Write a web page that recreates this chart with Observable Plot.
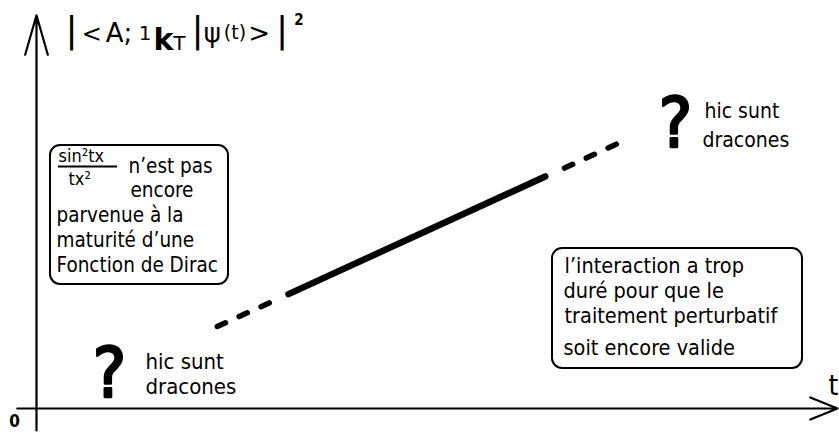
<!DOCTYPE html>
<html><head><meta charset="utf-8">
<script src="https://cdn.jsdelivr.net/npm/d3@7"></script>
<script src="https://cdn.jsdelivr.net/npm/@observablehq/plot@0.6"></script>
<style>html,body{margin:0;padding:0;background:#fff;overflow:hidden}</style>
</head><body><div id="chart"></div>
<script>
// ---- data (t = time, horizontal; P = probability, vertical; arbitrary units) ----
const tDomain = [0, 10];
const pDomain = [0, 10];
const xAxisExtent = [-0.24, 10.0125];
const yAxisExtent = [-0.55, 9.83];

// the straight growth of |<A;1kT|psi(t)>|^2, split in three stretches
const lineSegments = ["trop tôt", "valide", "trop tard"];
const lineT = [[2.26, 2.91], [3.15, 6.36], [6.60, 7.26]];
const lineP = [[2.05, 2.64], [2.86, 5.80], [6.01, 6.62]];

// annotation boxes
const boxNames = ["sinc", "perturbatif"];
const boxT1 = [0.175, 6.45];
const boxT2 = [2.40, 9.575];
const boxP1 = [3.10, 1.00];
const boxP2 = [6.575, 4.00];

const leftBoxLines = ["n’est pas", "encore", "parvenue à la", "maturité d’une", "Fonction de Dirac"];
const leftBoxT = [1.15, 1.175, 0.25, 0.25, 0.25];
const leftBoxP = [6.05, 5.45, 4.825, 4.20, 3.575];

const fractionText = ["sin²tx", "tx²"];
const fractionT = [0.275, 0.40];
const fractionP = [6.30, 5.725];
const fractionBar = {P: 6.05, t1: 0.275, t2: 1.0125};

const rightBoxLines = ["l’interaction a trop", "duré pour que le", "traitement perturbatif", "soit encore valide"];
const rightBoxT = [6.60, 6.5875, 6.60, 6.5875];
const rightBoxP = [3.55, 2.925, 2.30, 1.50];

const dragonLines = ["hic sunt", "dracones", "hic sunt", "dracones"];
const dragonT = [1.3625, 1.3625, 8.35, 8.325];
const dragonP = [1.175, 0.55, 7.425, 6.70];

const questionT = [0.9125, 7.9875];
const questionP = [0.85, 7.10];

const axisLabels = ["0", "t"];
const axisLabelT = [-0.275, 9.9625];
const axisLabelP = [-0.325, 0.55];

const titleText = "|<A; 1kT|ψ(t)>|";
const titleT = 0.3625, titleP = 9.375;
const titleSupT = 3.28, titleSupP = 9.70;
const titlePieces = [
  {s: "|", size: 36},
  {s: "<", size: 24, dx: 4},
  {s: "A;", size: 26, dx: 4},
  {s: " 1", size: 20, dy: -2},
  {s: "k", size: 30, weight: "bold", dy: 10, dx: 2},
  {s: "T", size: 20},
  {s: "|", size: 36, dy: -8, dx: 6},
  {s: "ψ", size: 26},
  {s: "(t)", size: 19, dy: -3, dx: 3},
  {s: ">", size: 26, dy: 3, dx: 2},
  {s: "|", size: 36, dx: 6}
];

// ---- build tables ----
const lineData = lineSegments.flatMap((seg, i) => lineT[i].map((t, j) => ({seg, t, P: lineP[i][j]})));
const boxes = boxNames.map((name, i) => ({name, t1: boxT1[i], t2: boxT2[i], p1: boxP1[i], p2: boxP2[i]}));
const mk = (texts, ts, ps) => texts.map((text, i) => ({text, t: ts[i], P: ps[i]}));
const leftNotes = mk(leftBoxLines, leftBoxT, leftBoxP);
const rightNotes = mk(rightBoxLines, rightBoxT, rightBoxP);
const fraction = mk(fractionText, fractionT, fractionP);
const dragonsLow = mk(dragonLines, dragonT, dragonP).slice(0, 2);
const dragonsHigh = mk(dragonLines, dragonT, dragonP).slice(2);
const questions = questionT.map((t, i) => ({text: "?", t, P: questionP[i]}));
const labels = mk(axisLabels, axisLabelT, axisLabelP);

const FONT = "DejaVu Sans Condensed, DejaVu Sans, sans-serif";

const chart = Plot.plot({
  width: 839, height: 432, margin: 0,
  style: {background: "white", fontFamily: FONT},
  x: {domain: tDomain, range: [36, 836], axis: null},
  y: {domain: pDomain, range: [408, 8], axis: null},
  marks: [
    Plot.arrow([{x1: xAxisExtent[0], x2: xAxisExtent[1], y: 0}], {x1: "x1", x2: "x2", y1: "y", y2: "y", stroke: "black", strokeWidth: 2.2, headLength: 20, headAngle: 44}),
    Plot.arrow([{y1: yAxisExtent[0], y2: yAxisExtent[1], x: 0}], {x1: "x", x2: "x", y1: "y1", y2: "y2", stroke: "black", strokeWidth: 2.2, headLength: 28, headAngle: 32}),
    Plot.rect(boxes, {x1: "t1", x2: "t2", y1: "p1", y2: "p2", fill: "white", stroke: "black", strokeWidth: 2, rx: 10}),
    Plot.line(lineData.filter(d => d.seg === "valide"), {x: "t", y: "P", stroke: "black", strokeWidth: 6.5, strokeLinecap: "round"}),
    Plot.line(lineData.filter(d => d.seg !== "valide"), {x: "t", y: "P", z: "seg", stroke: "black", strokeWidth: 5.5, strokeDasharray: "9,15", strokeLinecap: "round"}),
    Plot.text(leftNotes, {x: "t", y: "P", text: "text", textAnchor: "start", fontSize: 20.5, fill: "black"}),
    Plot.text(rightNotes, {x: "t", y: "P", text: "text", textAnchor: "start", fontSize: 21.5, fill: "black"}),
    Plot.text(fraction, {x: "t", y: "P", text: "text", textAnchor: "start", fontSize: 18, fill: "black"}),
    Plot.ruleY([fractionBar], {y: "P", x1: "t1", x2: "t2", stroke: "black", strokeWidth: 2}),
    Plot.text(dragonsLow, {x: "t", y: "P", text: "text", textAnchor: "start", fontSize: 22, fill: "black"}),
    Plot.text(dragonsHigh, {x: "t", y: "P", text: "text", textAnchor: "start", fontSize: 21, fill: "black"}),
    Plot.text(questions, {x: "t", y: "P", text: "text", textAnchor: "middle", fontSize: 70, fill: "black", stroke: "black", strokeWidth: 2.5}),
    Plot.text(labels.slice(0, 1), {x: "t", y: "P", text: "text", textAnchor: "middle", fontSize: 17, fontWeight: "bold", fill: "black"}),
    Plot.text(labels.slice(1), {x: "t", y: "P", text: "text", textAnchor: "middle", fontSize: 28, fill: "black"}),
    Plot.text([{text: titleText, t: titleT, P: titleP}], {x: "t", y: "P", text: "text", textAnchor: "start", fontSize: 26, fill: "black", fontFamily: "DejaVu Sans, sans-serif"}),
    Plot.text([{text: "2", t: titleSupT, P: titleSupP}], {x: "t", y: "P", text: "text", textAnchor: "middle", fontSize: 15, fontWeight: "bold", fill: "black"})
  ]
});

// style the title formula: bold k, subscript kT, taller bars
d3.select(chart).selectAll("text").filter(function() { return this.textContent === titleText; }).each(function() {
  const el = d3.select(this);
  el.text(null);
  titlePieces.forEach(p => {
    const ts = el.append("tspan").text(p.s).attr("font-size", p.size);
    if (p.weight) ts.attr("font-weight", p.weight);
    if (p.dy) ts.attr("dy", p.dy);
    if (p.dx) ts.attr("dx", p.dx);
  });
});

document.getElementById("chart").appendChild(chart);
</script>
</body></html>
